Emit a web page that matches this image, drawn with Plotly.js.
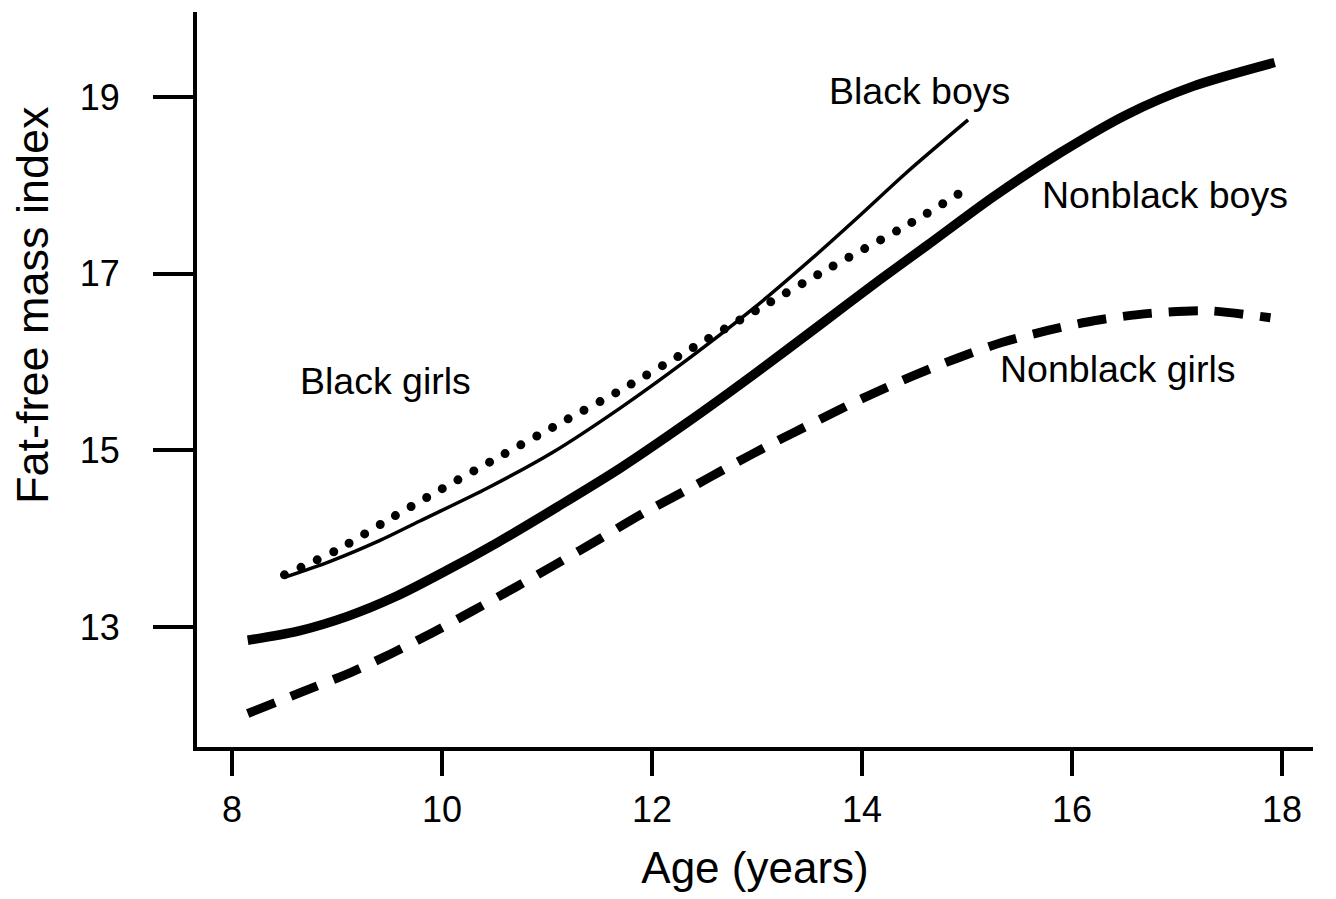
<!DOCTYPE html>
<html>
<head>
<meta charset="utf-8">
<script src="https://cdn.plot.ly/plotly-3.0.1.min.js"></script>
<style>
html, body { margin: 0; padding: 0; background: #ffffff; }
#chart { width: 1336px; height: 899px; }
</style>
</head>
<body>
<div id="chart"></div>
<script>
// ---- Data ----
const nonblackBoysAge = [8.15, 8.62, 9.10, 9.57, 10.03, 10.52, 11.10, 11.70, 12.33, 12.96, 13.60, 14.17, 14.62, 15.25, 15.89, 16.52, 17.15, 17.93];
const nonblackBoysFFMI = [12.85, 12.95, 13.12, 13.35, 13.63, 13.95, 14.36, 14.80, 15.31, 15.85, 16.42, 16.93, 17.32, 17.87, 18.37, 18.80, 19.12, 19.39];

const nonblackGirlsAge = [8.15, 8.68, 9.14, 9.52, 9.90, 10.29, 10.70, 11.10, 11.52, 11.92, 12.36, 12.74, 13.15, 13.55, 14.01, 14.48, 14.90, 15.33, 15.78, 16.22, 16.74, 17.29, 17.89];
const nonblackGirlsFFMI = [12.02, 12.27, 12.49, 12.70, 12.93, 13.18, 13.45, 13.72, 14.01, 14.29, 14.57, 14.82, 15.08, 15.32, 15.59, 15.84, 16.04, 16.22, 16.36, 16.47, 16.55, 16.58, 16.50];

const blackBoysAge = [8.52, 8.93, 9.41, 9.79, 10.43, 11.06, 11.70, 12.33, 12.96, 13.57, 14.00, 14.43, 15.01];
const blackBoysFFMI = [13.57, 13.74, 13.98, 14.20, 14.57, 14.98, 15.48, 16.02, 16.60, 17.22, 17.68, 18.15, 18.74];

const blackGirlsAge = [8.50, 9.00, 9.44, 9.86, 10.49, 11.10, 11.70, 12.33, 13.00, 13.67, 14.46, 14.93];
const blackGirlsFFMI = [13.59, 13.87, 14.18, 14.47, 14.89, 15.29, 15.68, 16.12, 16.59, 17.05, 17.57, 17.91];

const xTicks = [8, 10, 12, 14, 16, 18];
const yTicks = [13, 15, 17, 19];

const seriesLabels = ["Black boys", "Nonblack boys", "Nonblack girls", "Black girls"];
const xTitle = "Age (years)";
const yTitle = "Fat-free mass index";

// ---- Chart ----
const FONT = '"Liberation Sans", Arial, Helvetica, sans-serif';

const traces = [
  { x: nonblackGirlsAge, y: nonblackGirlsFFMI, name: "Nonblack girls", mode: "lines",
    line: { color: "#000", width: 9, dash: "29px,17px", shape: "spline", smoothing: 0.8 } },
  { x: blackGirlsAge, y: blackGirlsFFMI, name: "Black girls", mode: "lines",
    line: { color: "#000", width: 9, dash: "0px,18px", shape: "spline", smoothing: 0.8 } },
  { x: nonblackBoysAge, y: nonblackBoysFFMI, name: "Nonblack boys", mode: "lines",
    line: { color: "#000", width: 9.5, shape: "spline", smoothing: 0.8 } },
  { x: blackBoysAge, y: blackBoysFFMI, name: "Black boys", mode: "lines",
    line: { color: "#000", width: 3.5, shape: "spline", smoothing: 0.8 } }
];

const annFont = { family: FONT, size: 37.5, color: "#000" };

const layout = {
  width: 1336, height: 899,
  margin: { l: 197, r: 23, t: 12, b: 152 },
  paper_bgcolor: "#fff", plot_bgcolor: "#fff",
  showlegend: false,
  font: { family: FONT, color: "#000" },
  xaxis: {
    range: [7.667, 18.295],
    tickvals: xTicks, ticktext: xTicks.map(String),
    showgrid: false, zeroline: false,
    showline: true, linewidth: 4, linecolor: "#000",
    ticks: "outside", ticklen: 25, tickwidth: 4, tickcolor: "#000",
    tickfont: { family: FONT, size: 36, color: "#000" },
    ticklabelstandoff: 3,
    title: { text: xTitle, font: { family: FONT, size: 44, color: "#000" }, standoff: 24 }
  },
  yaxis: {
    range: [11.641, 19.962],
    tickvals: yTicks, ticktext: yTicks.map(String),
    showgrid: false, zeroline: false,
    showline: true, linewidth: 4, linecolor: "#000",
    ticks: "outside", ticklen: 40, tickwidth: 4, tickcolor: "#000",
    tickfont: { family: FONT, size: 36, color: "#000" },
    ticklabelstandoff: 26
  },
  annotations: [
    { text: yTitle, xref: "paper", yref: "paper", x: -0.148, y: 0.601, textangle: -90,
      showarrow: false, xanchor: "center", yanchor: "middle",
      font: { family: FONT, size: 45, color: "#000" } },
    { text: seriesLabels[0], x: 14.55, y: 19.07, showarrow: false, xanchor: "center", yanchor: "middle", font: annFont },
    { text: seriesLabels[1], x: 16.89, y: 17.885, showarrow: false, xanchor: "center", yanchor: "middle", font: annFont },
    { text: seriesLabels[2], x: 16.44, y: 15.915, showarrow: false, xanchor: "center", yanchor: "middle", font: annFont },
    { text: seriesLabels[3], x: 9.46, y: 15.79, showarrow: false, xanchor: "center", yanchor: "middle", font: annFont }
  ]
};

Plotly.newPlot("chart", traces, layout, { staticPlot: true, displayModeBar: false }).then(function (gd) {
  const paths = gd.querySelectorAll(".scatterlayer .trace path.js-line");
  if (paths[1]) paths[1].style.strokeLinecap = "round";
});
</script>
</body>
</html>
